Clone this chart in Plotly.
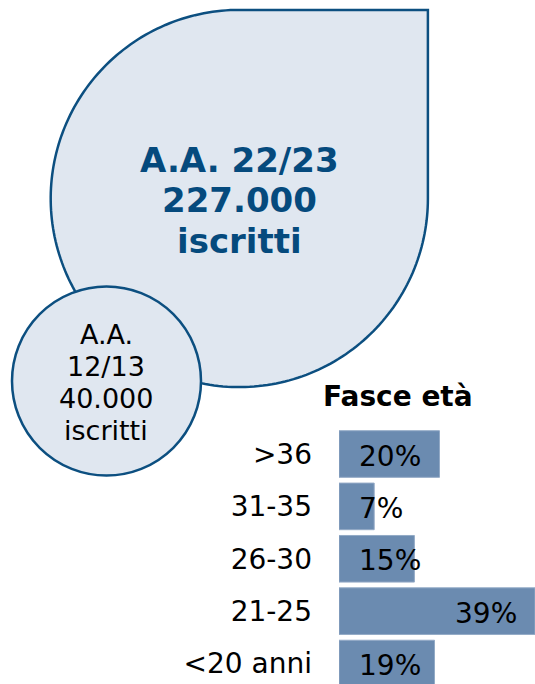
import numpy as np
import plotly.graph_objects as go

W, H = 535, 684

# ---- data ----
age_groups = ["<20 anni", "21-25", "26-30", "31-35", ">36"]
age_shares = [19, 39, 15, 7, 20]
current_year_lines = ["A.A. 22/23", "227.000", "iscritti"]
past_year_lines = ["A.A.", "12/13", "40.000", "iscritti"]
chart_title = "Fasce età"

FONT = "DejaVu Sans"
OUTLINE = "#0c4f80"
FILL = "#e0e7f0"
TEXT_BLUE = "#054a7d"
BAR = "#6b8bb0"


def px(x):
    return x / W


def py(y):
    return 1 - y / H


fig = go.Figure(
    go.Bar(
        x=age_shares,
        y=age_groups,
        orientation="h",
        marker=dict(color=BAR, line=dict(color="#93aac6", width=1)),
        hoverinfo="skip",
    )
)

# ---- teardrop shape (circle with square top-right corner) ----
cx, cy, r = 239.3, 198.5, 188.6
theta = np.linspace(0, 1.5 * np.pi, 200)
pts = [(cx + r * np.cos(t), cy + r * np.sin(t)) for t in theta]
path = f"M {px(cx + r)},{py(cy)} "
for x, y in pts[1:]:
    path += f"L {px(x)},{py(y)} "
path += f"L {px(cx + r)},{py(cy - r)} Z"

shapes = [
    dict(type="path", path=path, xref="paper", yref="paper",
         fillcolor=FILL, line=dict(color=OUTLINE, width=2.5)),
    dict(type="circle", xref="paper", yref="paper",
         x0=px(106.5 - 94.5), x1=px(106.5 + 94.5),
         y0=py(381 + 94.5), y1=py(381 - 94.5),
         fillcolor=FILL, line=dict(color=OUTLINE, width=2.5)),
]

annotations = []
for i, line in enumerate(current_year_lines):
    annotations.append(dict(
        text=f"<b>{line}</b>", x=px(239.3), y=py(160 + 40.3 * i),
        xref="paper", yref="paper", xanchor="center", yanchor="middle",
        showarrow=False, font=dict(family=FONT, size=34, color=TEXT_BLUE)))

for i, line in enumerate(past_year_lines):
    annotations.append(dict(
        text=line, x=px(106), y=py(335 + 31.7 * i),
        xref="paper", yref="paper", xanchor="center", yanchor="middle",
        showarrow=False, font=dict(family=FONT, size=27, color="black")))

annotations.append(dict(
    text=f"<b>{chart_title}</b>", x=px(398), y=py(396),
    xref="paper", yref="paper", xanchor="center", yanchor="middle",
    showarrow=False, font=dict(family=FONT, size=28, color="black")))

for cat, v in zip(age_groups, age_shares):
    if v >= 30:
        annotations.append(dict(
            text=f"{v}%", x=v, y=cat, xref="x", yref="y",
            xanchor="right", yanchor="middle", xshift=-16, yshift=-2,
            showarrow=False, font=dict(family=FONT, size=28, color="black")))
    else:
        annotations.append(dict(
            text=f"{v}%", x=0, y=cat, xref="x", yref="y",
            xanchor="left", yanchor="middle", xshift=18, yshift=-2,
            showarrow=False, font=dict(family=FONT, size=28, color="black")))

fig.update_layout(
    width=W, height=H,
    margin=dict(l=0, r=0, t=0, b=0),
    paper_bgcolor="white", plot_bgcolor="rgba(0,0,0,0)",
    showlegend=False,
    bargap=0.11,
    shapes=shapes,
    annotations=annotations,
    xaxis=dict(domain=[339 / W, 1], range=[0, 39], visible=False, fixedrange=True),
    yaxis=dict(domain=[0, (H - 427) / H], type="category",
               categoryorder="array", categoryarray=age_groups,
               range=[-0.391, 4.516], showgrid=False, showline=False,
               zeroline=False, ticks="", ticklabelstandoff=26,
               tickfont=dict(family=FONT, size=28, color="black"),
               fixedrange=True),
)

fig.write_html(
    "out.html",
    config={"displayModeBar": False},
    post_script="document.body.style.margin='0';document.body.style.overflow='hidden';",
)
